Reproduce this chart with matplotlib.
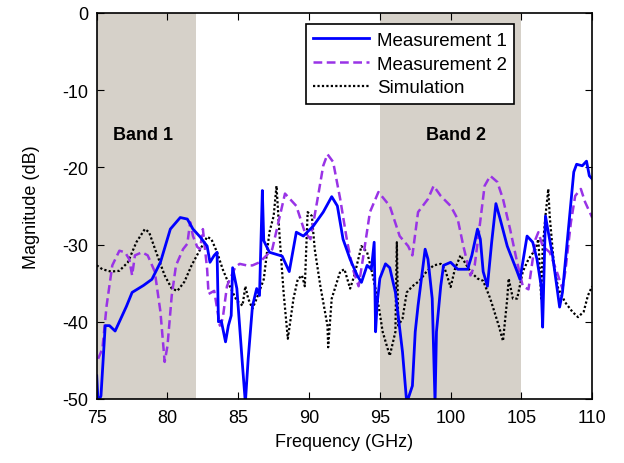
import numpy as np
import matplotlib
matplotlib.use('Agg')
import matplotlib.pyplot as plt

plt.rcParams['font.family'] = ['Liberation Sans', 'DejaVu Sans']
plt.rcParams['axes.unicode_minus'] = False

# Measurement 1 (blue, solid)
f_m1 = [75.0, 75.1, 75.3, 75.6, 75.9, 76.3, 76.6, 77.1, 77.5, 78.3, 78.9, 79.5, 80.2, 80.9,
        81.4, 81.8, 82.3, 82.8, 83.0, 83.3, 83.5, 83.6, 83.8, 84.1, 84.3, 84.5, 84.6, 84.9,
        85.3, 85.5, 85.7, 86.0, 86.3, 86.5, 86.7, 86.8, 87.2, 88.1, 88.6, 89.1, 89.6, 90.3,
        91.0, 91.6, 92.0, 92.4, 92.9, 93.4, 93.7, 94.1, 94.4, 94.6, 94.7, 94.8, 95.0, 95.4,
        95.7, 96.1, 96.6, 96.9, 97.3, 97.5, 97.7, 98.0, 98.2, 98.4, 98.7, 98.9, 99.0, 99.3,
        99.5, 100.0, 100.5, 101.2, 101.5, 101.9, 102.1, 102.3, 102.6, 102.9, 103.2, 103.5,
        104.0, 104.7, 104.9, 105.4, 105.8, 106.1, 106.4, 106.5, 106.7, 106.9, 107.2, 107.5,
        107.7, 107.9, 108.3, 108.7, 108.9, 109.3, 109.6, 109.8, 110.0]
m1 = [-47, -50.5, -49.6, -40.5, -40.5, -41.2, -40, -38, -36.2, -35.3, -34.5, -32.3, -28, -26.5,
      -26.7, -28, -29, -30.2, -32.3, -31.4, -31, -40, -39.9, -42.6, -40.5, -39.2, -33, -35.7,
      -45.7, -50.5, -44.8, -38, -35.7, -36.6, -23, -29.5, -31, -31.5, -33.5, -28.4, -28.9, -27.6,
      -25.8, -23.8, -25, -29.3, -31.9, -34, -34.9, -32.7, -33.2, -29.7, -41.3, -37.9, -34.4, -32.5,
      -33, -36.2, -43.9, -50.5, -48.3, -41.3, -37.9, -33.5, -30.6, -31.9, -37, -50.5, -41.3, -35.4,
      -32.7, -32.3, -33.2, -33.2, -31.4, -28, -29.3, -33.5, -35.4, -29.7, -24.7, -26.7,
      -30.2, -33.5, -34.5, -28.9, -29.7, -31.9, -35.4, -40.7, -26.3, -28.4, -31.4, -35.4,
      -38.1, -36.2, -28.4, -20.6, -19.6, -19.8, -19.2, -21.1, -21.5]

# Measurement 2 (purple, dashed)
f_m2 = [75.1, 75.4, 75.7, 76.1, 76.6, 77.0, 77.3, 77.5, 77.7, 78.2, 78.6, 79.1, 79.5, 79.8,
        80.0, 80.3, 80.6, 81.1, 81.4, 81.6, 81.8, 82.1, 82.3, 82.5, 82.8, 82.9, 83.3, 83.7,
        83.9, 84.2, 84.4, 84.8, 85.1, 85.6, 86.0, 86.5, 87.0, 87.4, 88.3, 89.1, 89.7, 90.1,
        90.6, 91.0, 91.3, 91.7, 92.2, 92.7, 93.1, 93.5, 93.8, 94.3, 94.9, 95.7, 96.4, 97.0,
        97.3, 97.7, 98.4, 98.8, 99.3, 100.0, 100.5, 100.9, 101.4, 101.7, 102.0, 102.4, 102.8,
        103.3, 103.7, 104.2, 104.7, 105.1, 105.5, 106.0, 106.2, 106.5, 107.0, 107.5, 107.9,
        108.1, 108.5, 108.8, 109.2, 109.5, 110.0]
m2 = [-44.8, -43.5, -37.9, -32.7, -30.8, -31, -31.9, -34, -31.4, -31, -31.4, -33.5, -38.7, -45.2,
      -43.1, -36.6, -32.7, -30.6, -29.9, -27.1, -28.9, -30.3, -30.6, -28, -33.2, -36.4, -36, -40.5,
      -39.6, -35.4, -34.5, -32.9, -32.5, -32.7, -32.7, -32.3, -31.4, -30.6, -23.4, -25, -28.4, -29.3,
      -24.1, -19.8, -18.3, -19.3, -24.1, -29.7, -33.2, -35.4, -31.9, -25.8, -23.2, -25, -28.9, -30.2,
      -31.4, -25.8, -24.1, -22.4, -23.7, -25, -26.7, -30.2, -34, -32.7, -28.4, -22.4, -21.1,
      -21.9, -24.1, -28, -32.3, -35.4, -35.8, -29.3, -28.4, -30.2, -31, -33.5, -35.7,
      -33.5, -27.1, -23.7, -22.8, -24.5, -26.5]

# Simulation (black, dotted)
f_sim = [75.0, 75.4, 76.0, 76.6, 77.2, 77.8, 78.4, 78.7, 79.2, 79.8, 80.3, 80.7, 81.2, 81.7,
         82.2, 82.8, 83.1, 83.5, 83.9, 84.4, 84.9, 85.3, 85.5, 85.7, 86.0, 86.3, 86.8, 87.2,
         87.5, 87.7, 87.9, 88.2, 88.5, 88.9, 89.2, 89.5, 89.7, 89.9, 90.2, 90.4, 90.8, 91.3,
         91.35, 91.6, 92.2, 92.5, 92.9, 93.2, 93.7, 94.1, 94.4, 94.8, 95.2, 95.7, 96.1, 96.2,
         96.3, 96.6, 96.9, 97.3, 97.8, 98.3, 98.8, 99.3, 99.6, 100.0, 100.3, 100.7, 101.0,
         101.4, 101.9, 102.3, 102.8, 103.4, 103.7, 104.0, 104.1, 104.4, 104.7, 105.1, 105.5,
         106.0, 106.2, 106.4, 106.5, 106.7, 106.9, 107.0, 107.3, 107.6, 108.1, 108.6, 109.0,
         109.4, 109.7, 110.0]
sim = [-32.7, -33.2, -33.5, -33.4, -32.3, -29.7, -28, -28.4, -31, -34, -35.7, -36, -34.8, -32.7,
       -31, -29, -29.3, -31, -33.2, -35.4, -37.3, -37.9, -35.4, -37, -38.3, -37, -34.5, -28.4,
       -26.3, -22.4, -28.4, -36.2, -42.2, -37, -34.5, -34, -35.4, -25.8, -26.3, -30.6, -35.4, -40.5,
       -43.3, -37, -33.5, -33.2, -35.7, -34, -30.2, -31, -33.2, -36.6, -41.3, -44.4, -41.3, -29.7,
       -40.5, -39.6, -36.2, -35.4, -34.7, -33.5, -32.7, -32.5, -33.2, -35.5, -33.2, -31.4, -32.3,
       -33.5, -34.4, -34.7, -37, -40.5, -42.5, -37, -34.4, -37, -37, -33.5, -31.9,
       -30.6, -29.3, -37, -30.6, -26.3, -22.8, -26.3, -32.7, -35.7, -37.5, -38.7, -39.4,
       -38.7, -36.6, -35.4]

bands = [(75, 82), (95, 105)]
band_labels = ['Band 1', 'Band 2']
band_label_x = [78.25, 100.4]

fig = plt.figure(figsize=(6.24, 4.64), dpi=100)
ax = fig.add_axes([0.155, 0.138, 0.794, 0.832])

for (a, b) in bands:
    ax.axvspan(a, b, color='#d6d1c9', lw=0, zorder=0)
for x, t in zip(band_label_x, band_labels):
    ax.text(x, -15.7, t, ha='center', va='center', fontsize=13, fontweight='bold')

l3, = ax.plot(f_sim, sim, color='black', ls=(0, (1, 1)), lw=1.6, label='Simulation')
l2, = ax.plot(f_m2, m2, color='#9933e6', ls=(0, (3.5, 1.8)), lw=1.8, label='Measurement 2')
l1, = ax.plot(f_m1, m1, color='#0000ff', ls='-', lw=2, label='Measurement 1')

ax.set_xlim(75, 110)
ax.set_ylim(-50, 0)
ax.set_xticks(np.arange(75, 111, 5))
ax.set_yticks(np.arange(-50, 1, 10))
ax.tick_params(direction='in', top=True, right=True, labelsize=13, length=5)
ax.tick_params(axis='x', pad=7)
ax.tick_params(axis='y', pad=6)
ax.set_xlabel('Frequency (GHz)', fontsize=13, labelpad=5)
ax.set_ylabel('Magnitude (dB)', fontsize=13, labelpad=16)
for s in ax.spines.values():
    s.set_linewidth(1.2)

leg = ax.legend(handles=[l1, l2, l3], loc='upper right', bbox_to_anchor=(0.862, 0.995),
                fontsize=13.5, fancybox=False, framealpha=1, edgecolor='black',
                handlelength=3.0, borderpad=0.4, labelspacing=0.35, handletextpad=0.4)
leg.get_frame().set_linewidth(1.2)

fig.savefig('out.png', dpi=100)
